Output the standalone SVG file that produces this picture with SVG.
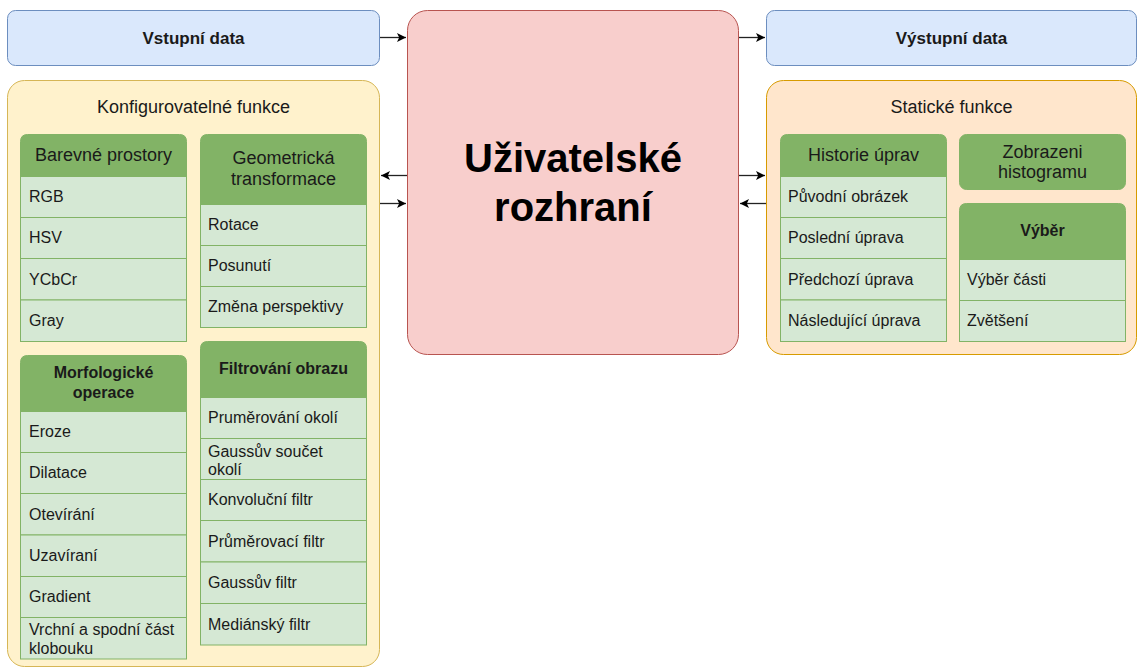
<svg xmlns="http://www.w3.org/2000/svg" width="1138" height="669" viewBox="0 0 1138 669">
<defs>
<style>
text{font-family:"Liberation Sans",Arial,sans-serif;fill:#1a1a1a}
.it{font-size:16px}
.hd{font-size:18px;text-anchor:middle}
.hb{font-size:16px;font-weight:bold;text-anchor:middle}
.hio{font-size:17px;font-weight:bold;text-anchor:middle}
.item{fill:#d5e8d4;stroke:#82b366;stroke-width:1}
.head{fill:#82b366;stroke:#82b366;stroke-width:1}
.io{fill:#dae8fc;stroke:#6c8ebf;stroke-width:1}
.conn{stroke:#222;stroke-width:1.3;fill:none;marker-end:url(#arr)}
</style>
<marker id="arr" markerUnits="userSpaceOnUse" markerWidth="11" markerHeight="10" refX="9" refY="4.5" orient="auto">
<path d="M0,0 L9,4.5 L0,9 L2.2,4.5 Z" fill="#000"/>
</marker>
</defs>

<g id="vstupni">
<rect class="io" x="7.5" y="10.5" width="372" height="55" rx="8"/>
<text class="hio" x="193.5" y="43.5">Vstupní data</text>
</g>

<g id="vystupni">
<rect class="io" x="766.5" y="10.5" width="370" height="55" rx="8"/>
<text class="hio" x="951.5" y="43.5">Výstupní data</text>
</g>

<g id="ui">
<rect x="407.5" y="10.5" width="331" height="344" rx="20" fill="#f8cecc" stroke="#b85450"/>
<text x="573" y="172" text-anchor="middle" font-size="40" font-weight="bold" style="fill:#000">Uživatelské</text>
<text x="573" y="221" text-anchor="middle" font-size="40" font-weight="bold" style="fill:#000">rozhraní</text>
</g>

<g id="konfig">
<rect x="7.5" y="80.5" width="372" height="586" rx="17" fill="#fff2cc" stroke="#d6b656"/>
<text class="hd" x="193.5" y="113">Konfigurovatelné funkce</text>
</g>

<g id="staticke">
<rect x="766.5" y="80.5" width="370" height="274" rx="17" fill="#ffe6cc" stroke="#d79b00"/>
<text class="hd" x="951.5" y="113">Statické funkce</text>
</g>

<g id="barevne">
<path class="head" d="M20.5,176.5 V141.5 Q20.5,134.5 27.5,134.5 H179.5 Q186.5,134.5 186.5,141.5 V176.5 Z"/>
<text class="hd" x="103.5" y="161">Barevné prostory</text>
<rect class="item" x="20.5" y="176.5" width="166" height="41"/>
<text class="it" x="29" y="202">RGB</text>
<rect class="item" x="20.5" y="217.5" width="166" height="41"/>
<text class="it" x="29" y="243">HSV</text>
<rect class="item" x="20.5" y="258.5" width="166" height="41.5"/>
<text class="it" x="29" y="285">YCbCr</text>
<rect class="item" x="20.5" y="300" width="166" height="41.5"/>
<text class="it" x="29" y="326">Gray</text>
</g>

<g id="geometricka">
<path class="head" d="M200.5,204.5 V141.5 Q200.5,134.5 207.5,134.5 H359.5 Q366.5,134.5 366.5,141.5 V204.5 Z"/>
<text class="hd" x="283.5" y="163.5">Geometrická</text>
<text class="hd" x="283.5" y="184.5">transformace</text>
<rect class="item" x="200.5" y="204.5" width="166" height="41"/>
<text class="it" x="208" y="230">Rotace</text>
<rect class="item" x="200.5" y="245.5" width="166" height="41"/>
<text class="it" x="208" y="271">Posunutí</text>
<rect class="item" x="200.5" y="286.5" width="166" height="41"/>
<text class="it" x="208" y="312">Změna perspektivy</text>
</g>

<g id="morfologicke">
<path class="head" d="M20.5,411.5 V362.5 Q20.5,355.5 27.5,355.5 H179.5 Q186.5,355.5 186.5,362.5 V411.5 Z"/>
<text class="hb" x="103.5" y="378">Morfologické</text>
<text class="hb" x="103.5" y="398">operace</text>
<rect class="item" x="20.5" y="411.5" width="166" height="41"/>
<text class="it" x="29" y="437">Eroze</text>
<rect class="item" x="20.5" y="452.5" width="166" height="41"/>
<text class="it" x="29" y="478">Dilatace</text>
<rect class="item" x="20.5" y="493.5" width="166" height="41.5"/>
<text class="it" x="29" y="519.5">Otevírání</text>
<rect class="item" x="20.5" y="535" width="166" height="41.5"/>
<text class="it" x="29" y="561">Uzavíraní</text>
<rect class="item" x="20.5" y="576.5" width="166" height="41"/>
<text class="it" x="29" y="602">Gradient</text>
<rect class="item" x="20.5" y="617.5" width="166" height="41.5"/>
<text class="it" x="29" y="635">Vrchní a spodní část</text>
<text class="it" x="29" y="654">klobouku</text>
</g>

<g id="filtrovani">
<path class="head" d="M200.5,397.5 V348.5 Q200.5,341.5 207.5,341.5 H359.5 Q366.5,341.5 366.5,348.5 V397.5 Z"/>
<text class="hb" x="283.5" y="374">Filtrování obrazu</text>
<rect class="item" x="200.5" y="397.5" width="166" height="41"/>
<text class="it" x="208" y="423">Pruměrování okolí</text>
<rect class="item" x="200.5" y="438.5" width="166" height="41"/>
<text class="it" x="208" y="456.5">Gaussův součet</text>
<text class="it" x="208" y="475">okolí</text>
<rect class="item" x="200.5" y="479.5" width="166" height="41"/>
<text class="it" x="208" y="505">Konvoluční filtr</text>
<rect class="item" x="200.5" y="520.5" width="166" height="41.5"/>
<text class="it" x="208" y="546.5">Průměrovací filtr</text>
<rect class="item" x="200.5" y="562" width="166" height="41.5"/>
<text class="it" x="208" y="588">Gaussův filtr</text>
<rect class="item" x="200.5" y="603.5" width="166" height="41.5"/>
<text class="it" x="208" y="629.5">Mediánský filtr</text>
</g>

<g id="historie">
<path class="head" d="M780.5,176.5 V141.5 Q780.5,134.5 787.5,134.5 H939.5 Q946.5,134.5 946.5,141.5 V176.5 Z"/>
<text class="hd" x="863.5" y="161">Historie úprav</text>
<rect class="item" x="780.5" y="176.5" width="166" height="41"/>
<text class="it" x="788" y="202">Původní obrázek</text>
<rect class="item" x="780.5" y="217.5" width="166" height="41"/>
<text class="it" x="788" y="243">Poslední úprava</text>
<rect class="item" x="780.5" y="258.5" width="166" height="41.5"/>
<text class="it" x="788" y="285">Předchozí úprava</text>
<rect class="item" x="780.5" y="300" width="166" height="41.5"/>
<text class="it" x="788" y="326">Následující úprava</text>
</g>

<g id="histogram">
<rect class="head" x="959.5" y="134.5" width="166" height="55" rx="7"/>
<text class="hd" x="1042.5" y="158">Zobrazeni</text>
<text class="hd" x="1042.5" y="178">histogramu</text>
</g>

<g id="vyber">
<path class="head" d="M959.5,259.5 V210.5 Q959.5,203.5 966.5,203.5 H1118.5 Q1125.5,203.5 1125.5,210.5 V259.5 Z"/>
<text class="hb" x="1042.5" y="236">Výběr</text>
<rect class="item" x="959.5" y="259.5" width="166" height="41"/>
<text class="it" x="967" y="285">Výběr části</text>
<rect class="item" x="959.5" y="300.5" width="166" height="41"/>
<text class="it" x="967" y="326">Zvětšení</text>
</g>

<g id="connectors">
<path class="conn" d="M380,37.5 H406"/>
<path class="conn" d="M407,175.5 H381"/>
<path class="conn" d="M380,203.5 H406"/>
<path class="conn" d="M739,37.5 H765"/>
<path class="conn" d="M739,175.5 H765"/>
<path class="conn" d="M766,203.5 H740"/>
</g>
</svg>
